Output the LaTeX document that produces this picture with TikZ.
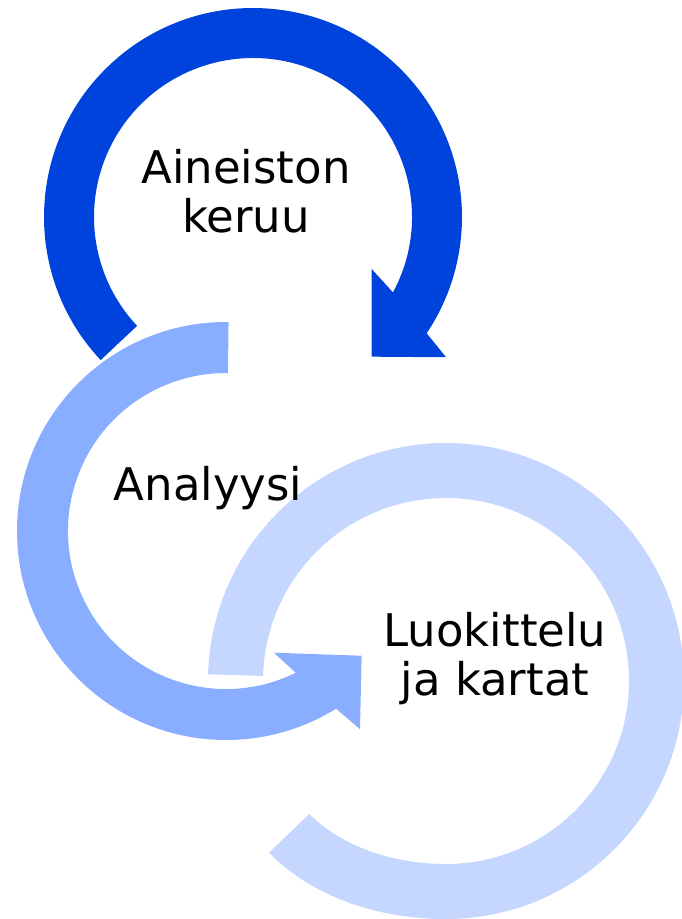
\documentclass[tikz,border=0pt]{standalone}
\usepackage{fontspec}
\setmainfont{DejaVu Sans}
\definecolor{arrowdark}{RGB}{0,67,220}
\definecolor{arrowmid}{RGB}{138,174,255}
\definecolor{arrowlight}{RGB}{197,214,255}
\tikzset{
  label text/.style={font=\fontsize{45}{49}\selectfont, text=black, align=center, inner sep=0pt}
}
\begin{document}
\begin{tikzpicture}[x=1pt,y=-1pt]
\useasboundingbox (0,0) rectangle (682,919);
% light ring (Luokittelu ja kartat)
\begin{scope}[shift={(446,681)}]
\fill[arrowlight] (181.6:238) arc[start angle=181.6, end angle=450, radius=238]
  .. controls (-65,238) and (-131,218) .. (-177,171.7)
  -- (-136.7,133)
  .. controls (-101.6,168) and (-48.5,183) .. (0,183)
  arc[start angle=450, end angle=181.6, radius=183] -- cycle;
\end{scope}
% medium arrow (Analyysi)
\begin{scope}[shift={(226,531)}]
\fill[arrowmid] (270.7:209) arc[start angle=270.7, end angle=58.2, radius=209]
  -- (55.95:239.3) -- (42.6:184.3) -- (68.5:130.8) -- (63.8:158)
  arc[start angle=63.8, end angle=270.7, radius=158] -- cycle;
\end{scope}
% dark arrow (Aineiston keruu)
\begin{scope}[shift={(253,217)}]
\fill[arrowdark] (136.8:209) arc[start angle=136.8, end angle=393.8, radius=209]
  -- (396:238.6) -- (409.65:183.3) -- (383.66:129.6) -- (388.3:159)
  arc[start angle=388.3, end angle=136.8, radius=159] -- cycle;
\end{scope}
\node[label text, anchor=base] (keruu) at (246,232.3) {Aineiston\\keruu};
\node[label text, anchor=base] (analyysi) at (208,500) {Analyysi};
\node[label text, anchor=base] (luokittelu) at (495,695) {Luokittelu\\ja kartat};
\end{tikzpicture}
\end{document}
